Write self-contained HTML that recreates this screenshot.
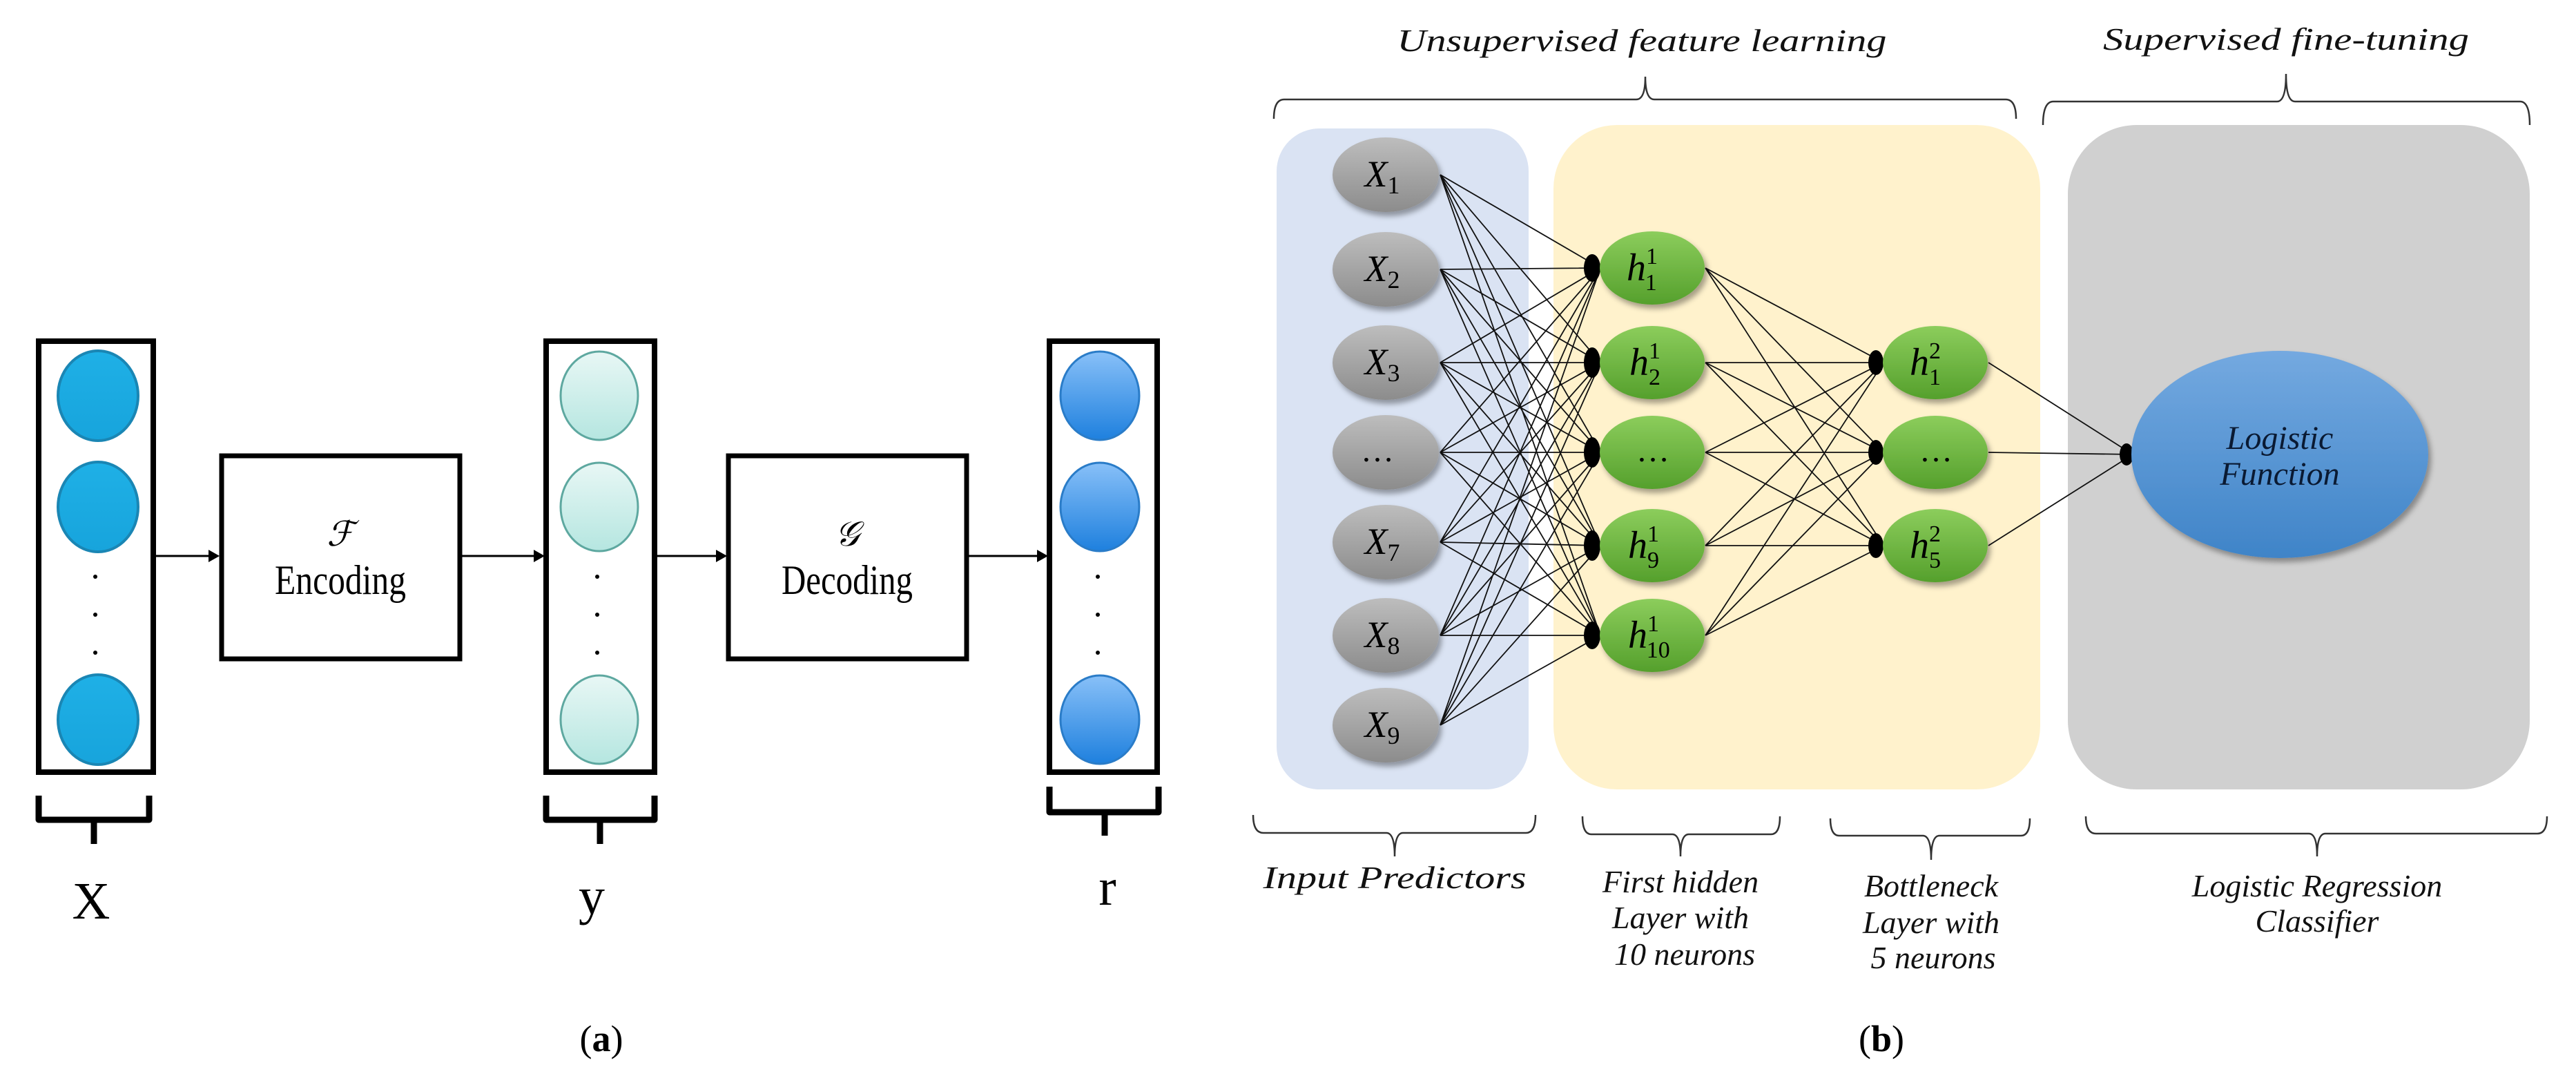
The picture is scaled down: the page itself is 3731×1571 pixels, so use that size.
<!DOCTYPE html>
<html><head><meta charset="utf-8"><style>
html,body{margin:0;padding:0;background:#fff;}
svg{display:block;}
text{font-family:"Liberation Serif","DejaVu Serif",serif;}
</style></head><body>
<svg width="3731" height="1571" viewBox="0 0 3731 1571" xmlns="http://www.w3.org/2000/svg" font-family="Liberation Serif, DejaVu Serif, serif">
<defs>
<linearGradient id="gx" x1="0" y1="0" x2="0" y2="1"><stop offset="0" stop-color="#1fb0e6"/><stop offset="1" stop-color="#17a4dc"/></linearGradient>
<linearGradient id="gy" x1="0" y1="0" x2="0" y2="1"><stop offset="0" stop-color="#e8f7f5"/><stop offset="1" stop-color="#b5e6e0"/></linearGradient>
<linearGradient id="gr" x1="0" y1="0" x2="0" y2="1"><stop offset="0" stop-color="#88c0f8"/><stop offset="1" stop-color="#1e80de"/></linearGradient>
<linearGradient id="gg" x1="0" y1="0" x2="0" y2="1"><stop offset="0" stop-color="#bdbdbd"/><stop offset="1" stop-color="#8c8c8c"/></linearGradient>
<linearGradient id="gn" x1="0" y1="0" x2="0" y2="1"><stop offset="0" stop-color="#8ccd5c"/><stop offset="1" stop-color="#55a02c"/></linearGradient>
<linearGradient id="gb" x1="0" y1="0" x2="0" y2="1"><stop offset="0" stop-color="#74a9e0"/><stop offset="1" stop-color="#3f84c8"/></linearGradient>
<filter id="sh" x="-20%" y="-20%" width="150%" height="150%"><feDropShadow dx="4" dy="6" stdDeviation="4" flood-color="#000" flood-opacity="0.35"/></filter>
</defs>

<!-- (a) -->
<g stroke="#000" fill="none">
<rect x="56" y="494" width="166" height="624" stroke-width="8"/>
<rect x="791" y="494" width="157" height="624" stroke-width="8"/>
<rect x="1520" y="494" width="156" height="624" stroke-width="8"/>
<rect x="321" y="660" width="345" height="294" stroke-width="7"/>
<rect x="1055" y="660" width="345" height="294" stroke-width="7"/>
</g>
<g stroke-width="4">
<ellipse cx="142" cy="573" rx="58" ry="65" fill="url(#gx)" stroke="#1a86b4"/>
<ellipse cx="142" cy="734" rx="58" ry="65" fill="url(#gx)" stroke="#1a86b4"/>
<ellipse cx="142" cy="1042" rx="58" ry="65" fill="url(#gx)" stroke="#1a86b4"/>
<ellipse cx="868" cy="573" rx="56" ry="64" fill="url(#gy)" stroke="#5ea8a0" stroke-width="3"/>
<ellipse cx="868" cy="734" rx="56" ry="64" fill="url(#gy)" stroke="#5ea8a0" stroke-width="3"/>
<ellipse cx="868" cy="1042" rx="56" ry="64" fill="url(#gy)" stroke="#5ea8a0" stroke-width="3"/>
<ellipse cx="1593" cy="573" rx="57" ry="64" fill="url(#gr)" stroke="#2a7cc8" stroke-width="3"/>
<ellipse cx="1593" cy="734" rx="57" ry="64" fill="url(#gr)" stroke="#2a7cc8" stroke-width="3"/>
<ellipse cx="1593" cy="1042" rx="57" ry="64" fill="url(#gr)" stroke="#2a7cc8" stroke-width="3"/>
</g>
<g fill="#000">
<circle cx="138" cy="835" r="3"/><circle cx="138" cy="890" r="3"/><circle cx="138" cy="945" r="3"/>
<circle cx="865" cy="835" r="3"/><circle cx="865" cy="890" r="3"/><circle cx="865" cy="945" r="3"/>
<circle cx="1590" cy="835" r="3"/><circle cx="1590" cy="890" r="3"/><circle cx="1590" cy="945" r="3"/>
</g>
<g stroke="#000" stroke-width="3">
<line x1="226" y1="805" x2="305" y2="805"/>
<line x1="668" y1="805" x2="775" y2="805"/>
<line x1="952" y1="805" x2="1040" y2="805"/>
<line x1="1402" y1="805" x2="1505" y2="805"/>
</g>
<g fill="#000">
<polygon points="318,805 302,796 302,814"/>
<polygon points="789,805 773,796 773,814"/>
<polygon points="1053,805 1037,796 1037,814"/>
<polygon points="1518,805 1502,796 1502,814"/>
</g>
<g text-anchor="middle" fill="#000" font-family="Liberation Serif, DejaVu Serif, serif">
<text x="493" y="790" font-size="50" font-style="italic" font-family="DejaVu Serif, serif">ℱ</text>
<text x="493" y="860" font-size="60" textLength="190" lengthAdjust="spacingAndGlyphs" font-family="Liberation Serif, serif">Encoding</text>
<text x="1227" y="790" font-size="50" font-style="italic" font-family="DejaVu Serif, serif">𝒢</text>
<text x="1227" y="860" font-size="60" textLength="190" lengthAdjust="spacingAndGlyphs" font-family="Liberation Serif, serif">Decoding</text>
<text x="132" y="1330" font-size="76" font-family="Liberation Serif, serif">X</text>
<text x="857" y="1323" font-size="76" font-family="Liberation Serif, serif">y</text>
<text x="1604" y="1310" font-size="76" font-family="Liberation Serif, serif">r</text>
<text x="871" y="1522" font-size="54" font-family="Liberation Serif, serif">(<tspan font-weight="bold">a</tspan>)</text>
<text x="2725" y="1522" font-size="54" font-family="Liberation Serif, serif">(<tspan font-weight="bold">b</tspan>)</text>
</g>
<g stroke="#000" stroke-width="9" fill="none" stroke-linejoin="round">
<path d="M56 1152 V1187 H216 V1152 M136 1187 V1222"/>
<path d="M791 1152 V1187 H948 V1152 M869 1187 V1222"/>
<path d="M1520 1139 V1176 H1678 V1139 M1600 1176 V1210"/>
</g>

<!-- (b) -->
<g stroke="#333" stroke-width="2.5" fill="none">
<path d="M1845 172 Q1845 144 1860 144 H2370 Q2383 144 2383 111 Q2383 144 2396 144 H2905 Q2920 144 2920 172"/>
<path d="M2959 181 Q2959 147 2974 147 H3298 Q3311 147 3311 107 Q3311 147 3324 147 H3650 Q3664 147 3664 181"/>
<path d="M1815 1180 Q1815 1206 1830 1206 H2008 Q2020 1206 2020 1240 Q2020 1206 2032 1206 H2210 Q2224 1206 2224 1180"/>
<path d="M2292 1182 Q2292 1208 2305 1208 H2422 Q2434 1208 2434 1240 Q2434 1208 2446 1208 H2565 Q2578 1208 2578 1182"/>
<path d="M2651 1185 Q2651 1210 2664 1210 H2785 Q2797 1210 2797 1245 Q2797 1210 2809 1210 H2927 Q2940 1210 2940 1185"/>
<path d="M3021 1182 Q3021 1207 3036 1207 H3344 Q3356 1207 3356 1240 Q3356 1207 3368 1207 H3675 Q3689 1207 3689 1182"/>
</g>
<rect x="1849" y="186" width="365" height="957" rx="62" fill="#dae3f3"/>
<rect x="2250" y="181" width="705" height="962" rx="92" fill="#fff2cc"/>
<rect x="2995" y="181" width="669" height="962" rx="100" fill="#d0d0d0"/>

<g fill="#111" text-anchor="middle" font-style="italic" font-family="Liberation Serif, DejaVu Serif, serif">
<text x="2378" y="74" font-size="46" textLength="709" lengthAdjust="spacingAndGlyphs">Unsupervised feature learning</text>
<text x="3311" y="72" font-size="46" textLength="530" lengthAdjust="spacingAndGlyphs">Supervised fine-tuning</text>
<text x="2020" y="1286" font-size="46" textLength="381" lengthAdjust="spacingAndGlyphs">Input Predictors</text>
<text x="2434" y="1292" font-size="46">First hidden</text>
<text x="2434" y="1344" font-size="46">Layer with</text>
<text x="2440" y="1397" font-size="46">10 neurons</text>
<text x="2797" y="1298" font-size="46">Bottleneck</text>
<text x="2797" y="1351" font-size="46">Layer with</text>
<text x="2800" y="1402" font-size="46">5 neurons</text>
<text x="3356" y="1298" font-size="46">Logistic Regression</text>
<text x="3356" y="1349" font-size="46">Classifier</text>
</g>

<!-- edges -->
<g stroke="#111" stroke-width="1.8" fill="none">
<path d="
M2086 253L2318 388M2086 253L2318 525M2086 253L2318 655M2086 253L2318 790M2086 253L2318 920
M2086 390L2318 388M2086 390L2318 525M2086 390L2318 655M2086 390L2318 790M2086 390L2318 920
M2086 525L2318 388M2086 525L2318 525M2086 525L2318 655M2086 525L2318 790M2086 525L2318 920
M2086 655L2318 388M2086 655L2318 525M2086 655L2318 655M2086 655L2318 790M2086 655L2318 920
M2086 785L2318 388M2086 785L2318 525M2086 785L2318 655M2086 785L2318 790M2086 785L2318 920
M2086 920L2318 388M2086 920L2318 525M2086 920L2318 655M2086 920L2318 790M2086 920L2318 920
M2086 1050L2318 388M2086 1050L2318 525M2086 1050L2318 655M2086 1050L2318 790M2086 1050L2318 920
M2470 388L2728 525M2470 388L2728 655M2470 388L2728 790
M2470 525L2728 525M2470 525L2728 655M2470 525L2728 790
M2470 655L2728 525M2470 655L2728 655M2470 655L2728 790
M2470 790L2728 525M2470 790L2728 655M2470 790L2728 790
M2470 920L2728 525M2470 920L2728 655M2470 920L2728 790
M2880 525L3089 658M2880 655L3089 658M2880 790L3089 658"/>
</g>
<g fill="#000">
<ellipse cx="2306" cy="388" rx="12" ry="20"/>
<ellipse cx="2306" cy="525" rx="12" ry="22"/>
<ellipse cx="2306" cy="655" rx="12" ry="22"/>
<ellipse cx="2306" cy="790" rx="12" ry="22"/>
<ellipse cx="2306" cy="920" rx="12" ry="20"/>
<ellipse cx="2717" cy="525" rx="11" ry="18"/>
<ellipse cx="2717" cy="655" rx="11" ry="18"/>
<ellipse cx="2717" cy="790" rx="11" ry="18"/>
<ellipse cx="3080" cy="658" rx="10" ry="16"/>
</g>

<!-- nodes -->
<g filter="url(#sh)">
<ellipse cx="2007" cy="253" rx="77" ry="54" fill="url(#gg)"/>
<ellipse cx="2007" cy="390" rx="77" ry="54" fill="url(#gg)"/>
<ellipse cx="2007" cy="525" rx="77" ry="54" fill="url(#gg)"/>
<ellipse cx="2007" cy="655" rx="77" ry="54" fill="url(#gg)"/>
<ellipse cx="2007" cy="785" rx="77" ry="54" fill="url(#gg)"/>
<ellipse cx="2007" cy="920" rx="77" ry="54" fill="url(#gg)"/>
<ellipse cx="2007" cy="1050" rx="77" ry="54" fill="url(#gg)"/>
<ellipse cx="2393" cy="388" rx="76" ry="53" fill="url(#gn)"/>
<ellipse cx="2393" cy="525" rx="76" ry="53" fill="url(#gn)"/>
<ellipse cx="2393" cy="655" rx="76" ry="53" fill="url(#gn)"/>
<ellipse cx="2393" cy="790" rx="76" ry="53" fill="url(#gn)"/>
<ellipse cx="2393" cy="920" rx="76" ry="53" fill="url(#gn)"/>
<ellipse cx="2803" cy="525" rx="76" ry="53" fill="url(#gn)"/>
<ellipse cx="2803" cy="655" rx="76" ry="53" fill="url(#gn)"/>
<ellipse cx="2803" cy="790" rx="76" ry="53" fill="url(#gn)"/>
<ellipse cx="3302" cy="658" rx="215" ry="150" fill="url(#gb)"/>
</g>
<g fill="#000" font-size="54" text-anchor="middle" font-style="italic" font-family="Liberation Serif, DejaVu Serif, serif">
<text x="2002" y="270">X<tspan font-size="36" dy="10" font-style="normal">1</tspan></text>
<text x="2002" y="407">X<tspan font-size="36" dy="10" font-style="normal">2</tspan></text>
<text x="2002" y="542">X<tspan font-size="36" dy="10" font-style="normal">3</tspan></text>
<text x="1995" y="668" font-style="normal" font-size="48">…</text>
<text x="2002" y="802">X<tspan font-size="36" dy="10" font-style="normal">7</tspan></text>
<text x="2002" y="937">X<tspan font-size="36" dy="10" font-style="normal">8</tspan></text>
<text x="2002" y="1067">X<tspan font-size="36" dy="10" font-style="normal">9</tspan></text>
</g>
<g fill="#000" font-size="56" font-style="italic" font-family="Liberation Serif, DejaVu Serif, serif">
<text x="2356" y="406">h<tspan font-size="34" font-style="normal" dy="-24">1</tspan><tspan font-size="34" font-style="normal" dx="-17" dy="38">1</tspan></text>
<text x="2360" y="543">h<tspan font-size="34" font-style="normal" dy="-24">1</tspan><tspan font-size="34" font-style="normal" dx="-17" dy="38">2</tspan></text>
<text x="2370" y="668" font-style="normal" font-size="48">…</text>
<text x="2358" y="808">h<tspan font-size="34" font-style="normal" dy="-24">1</tspan><tspan font-size="34" font-style="normal" dx="-17" dy="38">9</tspan></text>
<text x="2358" y="938">h<tspan font-size="34" font-style="normal" dy="-24">1</tspan><tspan font-size="34" font-style="normal" dx="-17" dy="38">10</tspan></text>
<text x="2766" y="543">h<tspan font-size="34" font-style="normal" dy="-24">2</tspan><tspan font-size="34" font-style="normal" dx="-17" dy="38">1</tspan></text>
<text x="2780" y="668" font-style="normal" font-size="48">…</text>
<text x="2766" y="808">h<tspan font-size="34" font-style="normal" dy="-24">2</tspan><tspan font-size="34" font-style="normal" dx="-17" dy="38">5</tspan></text>
</g>
<g fill="#0a1a33" font-size="48" text-anchor="middle" font-style="italic" font-family="Liberation Serif, DejaVu Serif, serif">
<text x="3302" y="650">Logistic</text>
<text x="3302" y="702">Function</text>
</g>
</svg>
</body></html>
